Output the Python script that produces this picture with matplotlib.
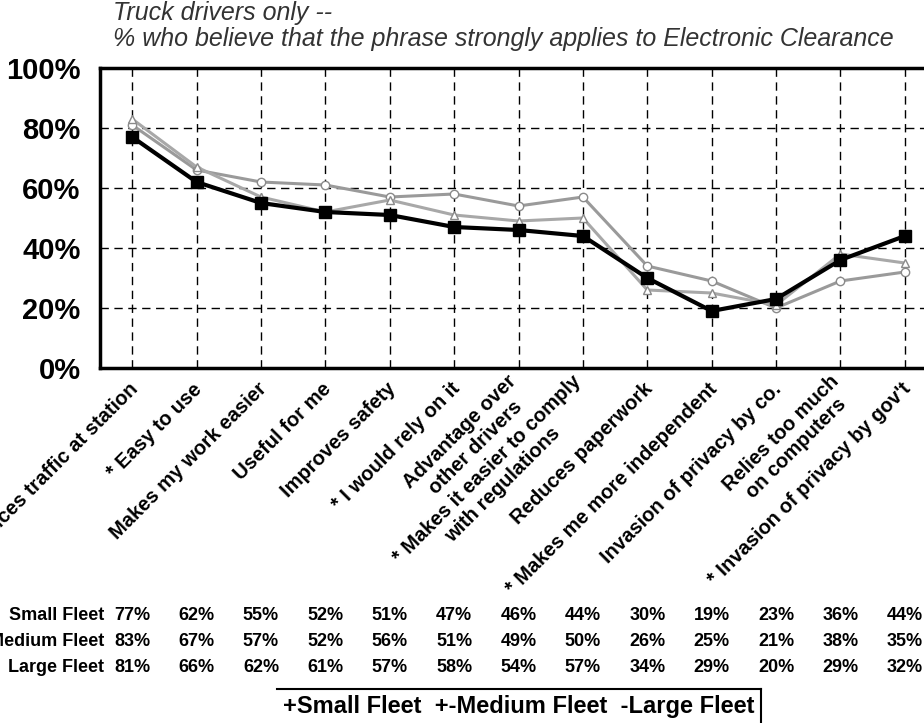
import matplotlib
matplotlib.use('Agg')
import matplotlib.pyplot as plt
from matplotlib.lines import Line2D
import matplotlib.transforms as mtransforms

plt.rcParams['font.family'] = ['Liberation Sans', 'DejaVu Sans']

# phrases (x categories)
phrases = ['Reduces traffic at station', '* Easy to use', 'Makes my work easier',
           'Useful for me', 'Improves safety', '* I would rely on it',
           'Advantage over\nother drivers', '* Makes it easier to comply\nwith regulations',
           'Reduces paperwork', '* Makes me more independent',
           'Invasion of privacy by co.', 'Relies too much\non computers',
           "* Invasion of privacy by gov't"]

# % who say phrase strongly applies
small_fleet = [77, 62, 55, 52, 51, 47, 46, 44, 30, 19, 23, 36, 44]
medium_fleet = [83, 67, 57, 52, 56, 51, 49, 50, 26, 25, 21, 38, 35]
large_fleet = [81, 66, 62, 61, 57, 58, 54, 57, 34, 29, 20, 29, 32]

row_names = ['Small Fleet', 'Medium Fleet', 'Large Fleet']
y_ticks = [0, 20, 40, 60, 80, 100]

fig = plt.figure(figsize=(9.24, 7.23), dpi=100)
ax = fig.add_axes([100/924, 1 - 368/723, 837/924, 300/723])

x = list(range(len(phrases)))

# grey lines first, black one on top
ax.plot(x, large_fleet, color='#9a9a9a', lw=2.2, marker='o', ms=6,
        mfc='white', mec='#8a8a8a', mew=1, zorder=3)
ax.plot(x, medium_fleet, color='#a8a8a8', lw=2.2, marker='^', ms=6,
        mfc='white', mec='#8a8a8a', mew=1, zorder=3)
ax.plot(x, small_fleet, color='black', lw=3, marker='s', ms=9,
        mfc='black', mec='black', zorder=4)

ax.set_xlim(-0.5, len(phrases) - 0.5)
ax.set_ylim(0, 100)
ax.set_yticks(y_ticks)
ax.set_yticklabels([str(v) + '%' for v in y_ticks], fontsize=21, fontweight='bold')
ax.set_xticks(x)
ax.set_xticklabels([])
ax.tick_params(length=0, pad=14)

# dashed grid
for v in y_ticks[1:-1]:
    ax.axhline(v, color='black', lw=1, ls=(0, (6, 4)), zorder=1)
for i in x:
    ax.axvline(i, color='black', lw=1, ls=(0, (6, 4)), zorder=1)

for s in ['top', 'bottom', 'left']:
    ax.spines[s].set_linewidth(2.5)
ax.spines['right'].set_visible(False)

# rotated category labels
for i, p in enumerate(phrases):
    ax.annotate(p, xy=(i, 0), xycoords=('data', 'axes fraction'),
                xytext=(2, -13), textcoords='offset points',
                rotation=45, rotation_mode='anchor', ha='right', va='center',
                multialignment='center', fontsize=14.5, fontweight='bold',
                annotation_clip=False)

# title
fig.text(113/924, 1 - 13/723, 'Truck drivers only --', fontsize=18,
         style='italic', color='#333333', va='center', ha='left')
fig.text(113/924, 1 - 39/723,
         '% who believe that the phrase strongly applies to Electronic Clearance',
         fontsize=18, style='italic', color='#333333', va='center', ha='left')

# data table under chart
rows = [small_fleet, medium_fleet, large_fleet]
row_y = [615, 642, 668]
tr = mtransforms.blended_transform_factory(ax.transData, fig.transFigure)
for name, vals, yy in zip(row_names, rows, row_y):
    fig.text(104/924, 1 - yy/723, name, ha='right', va='center',
             fontsize=13, fontweight='bold')
    for i, v in enumerate(vals):
        ax.text(i, 1 - yy/723, str(v) + '%', transform=tr,
                ha='center', va='center', fontsize=13, fontweight='bold', clip_on=False)

# legend box (as in original, plain text)
fig.text(283/924, 1 - 706/723, '+Small Fleet  +-Medium Fleet  -Large Fleet',
         ha='left', va='center', fontsize=17, fontweight='bold')
fig.add_artist(Line2D([277/924, 761/924], [1 - 689/723, 1 - 689/723],
                      color='black', lw=1.5, transform=fig.transFigure))
fig.add_artist(Line2D([761/924, 761/924], [1 - 689/723, 0],
                      color='black', lw=1.5, transform=fig.transFigure))

fig.savefig('out.png', dpi=100)
